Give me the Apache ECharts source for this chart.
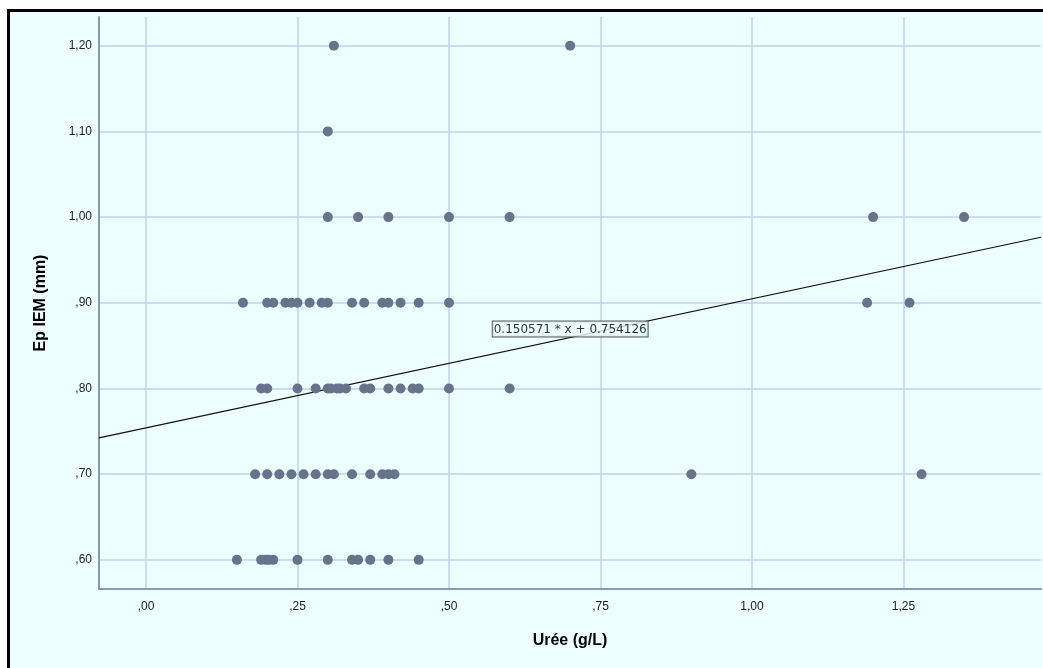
<!DOCTYPE html>
<html>
<head>
<meta charset="utf-8">
<script src="https://cdn.jsdelivr.net/npm/echarts@6/dist/echarts.min.js"></script>
<style>
html, body { margin: 0; padding: 0; background: #ffffff; }
.frame {
    position: absolute; left: 7px; top: 9px; width: 1040px; height: 670px;
    border-left: 3px solid #000; border-top: 3px solid #000;
    background: #eeffff;
}
#chart { position: absolute; left: 0; top: 0; width: 1043px; height: 668px; }
</style>
</head>
<body>
<div class="frame"></div>
<div id="chart"></div>
<script>
// Ep IEM (mm) levels and the urée values (g/L) found at each level
var row060 = [0.15, 0.19, 0.198, 0.203, 0.21, 0.25, 0.30, 0.34, 0.35, 0.37, 0.40, 0.45];
var row070 = [0.18, 0.20, 0.22, 0.24, 0.26, 0.28, 0.30, 0.31, 0.34, 0.37, 0.39, 0.40, 0.41, 0.90, 1.28];
var row080 = [0.19, 0.20, 0.25, 0.28, 0.30, 0.305, 0.315, 0.32, 0.33, 0.36, 0.37, 0.40, 0.42, 0.44, 0.45, 0.50, 0.60];
var row090 = [0.16, 0.20, 0.21, 0.23, 0.24, 0.25, 0.27, 0.29, 0.30, 0.34, 0.36, 0.39, 0.40, 0.42, 0.45, 0.50, 1.19, 1.26];
var row100 = [0.30, 0.35, 0.40, 0.50, 0.60, 1.20, 1.35];
var row110 = [0.30];
var row120 = [0.31, 0.70];

var xTicks = [0, 0.25, 0.5, 0.75, 1.0, 1.25];
var yTicks = [0.6, 0.7, 0.8, 0.9, 1.0, 1.1, 1.2];

// droite de régression
var slope = 0.150571;
var intercept = 0.754126;

var xMin = -0.0776, xMax = 1.477;
var yMin = 0.566, yMax = 1.2335;

var points = [];
[[0.6, row060], [0.7, row070], [0.8, row080], [0.9, row090],
 [1.0, row100], [1.1, row110], [1.2, row120]].forEach(function (r) {
    r[1].forEach(function (x) { points.push([x, r[0]]); });
});

function fmt(v) {
    return v.toFixed(2).replace('.', ',').replace(/^0/, '');
}

var chart = echarts.init(document.getElementById('chart'));
var option = {
    backgroundColor: 'transparent',
    animation: false,
    grid: { left: 99, right: 2, top: 17, bottom: 79 },
    xAxis: {
        type: 'value',
        min: xMin, max: xMax,
        name: 'Urée (g/L)',
        nameLocation: 'middle',
        nameGap: 44,
        nameTextStyle: { fontFamily: 'Liberation Sans', fontSize: 16, fontWeight: 'bold', color: '#000' },
        axisLine: { show: true, onZero: false, lineStyle: { color: '#8a98b4', width: 2 } },
        axisTick: { show: false, customValues: xTicks },
        axisLabel: {
            customValues: xTicks, margin: 12,
            fontFamily: 'Liberation Sans', fontSize: 12, color: '#222',
            formatter: fmt
        },
        splitLine: { show: true, lineStyle: { color: '#c3d0ee', width: 1.5 } }
    },
    yAxis: {
        type: 'value',
        min: yMin, max: yMax,
        name: 'Ep IEM (mm)',
        nameLocation: 'middle',
        nameGap: 50,
        nameTextStyle: { fontFamily: 'Liberation Sans', fontSize: 16, fontWeight: 'bold', color: '#000' },
        axisLine: { show: true, onZero: false, lineStyle: { color: '#8a98b4', width: 2 } },
        axisTick: { show: false, customValues: yTicks },
        axisLabel: {
            customValues: yTicks, margin: 7,
            fontFamily: 'Liberation Sans', fontSize: 12, color: '#222',
            formatter: fmt
        },
        splitLine: { show: true, lineStyle: { color: '#c3d0ee', width: 1.5 } }
    },
    series: [
        {
            type: 'line',
            data: [[xMin, slope * xMin + intercept], [xMax, slope * xMax + intercept]],
            symbol: 'none',
            lineStyle: { color: '#111', width: 1.2 },
            z: 3
        },
        {
            type: 'scatter',
            data: points,
            symbolSize: 10,
            itemStyle: { color: '#67738b', opacity: 1 },
            z: 4
        },
        {
            type: 'scatter',
            data: [[0.70, 0.8595]],
            symbolSize: 0,
            z: 5,
            label: {
                show: true,
                position: 'top',
                distance: 1,
                formatter: slope.toFixed(6) + ' * x + ' + intercept.toFixed(6),
                fontFamily: 'DejaVu Sans', fontSize: 12, color: '#000',
                backgroundColor: '#eeffff',
                borderColor: '#333', borderWidth: 1,
                padding: [2, 1, 1, 1]
            }
        }
    ]
};
chart.setOption(option);
</script>
</body>
</html>
